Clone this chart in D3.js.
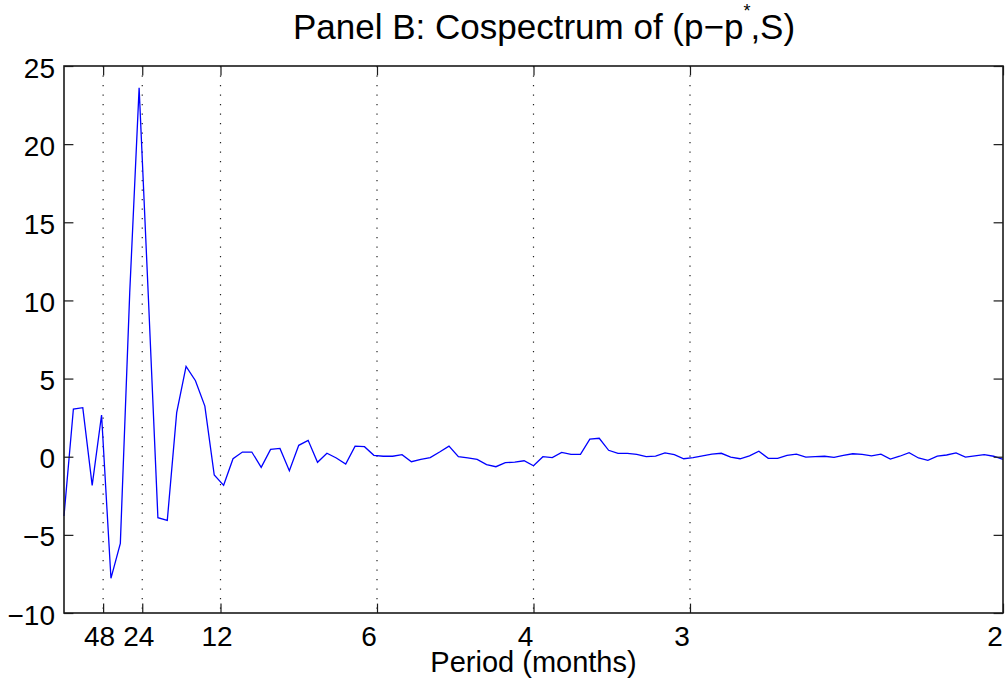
<!DOCTYPE html>
<html>
<head>
<meta charset="utf-8">
<script src="https://cdn.jsdelivr.net/npm/d3@7"></script>
<style>
  html, body { margin: 0; padding: 0; background: #fff; }
  svg { display: block; }
  text { font-family: "Liberation Sans", Arial, Helvetica, sans-serif; fill: #000; }
</style>
</head>
<body>
<svg id="chart" width="1006" height="686"></svg>
<script>
// ---- data ----
// frequency grid (cycles per month), k/200 for k = 0..100
const frequencies = d3.range(101).map(k => k / 200);
const cospectrum = [
  -3.79, 3.05, 3.14, -1.83, 2.67, -7.78, -5.54, 10.5, 23.6, 10.0,
  -3.9, -4.07, 2.82, 5.78, 4.86, 3.24, -1.17, -1.83, -0.13, 0.3,
  0.3, -0.68, 0.47, 0.53, -0.9, 0.73, 1.05, -0.36, 0.22, -0.08,
  -0.47, 0.68, 0.64, 0.09, 0.03, 0.03, 0.13, -0.32, -0.17, -0.06,
  0.3, 0.68, 0.0, -0.08, -0.17, -0.51, -0.64, -0.38, -0.34, -0.26,
  -0.58, 0.0, -0.06, 0.28, 0.15, 0.15, 1.13, 1.18, 0.41, 0.22,
  0.22, 0.15, 0.0, 0.04, 0.24, 0.13, -0.13, -0.06, 0.06, 0.17,
  0.22, -0.02, -0.13, 0.06, 0.35, -0.1, -0.1, 0.09, 0.17, -0.02,
  0.0, 0.03, -0.04, 0.09, 0.19, 0.15, 0.06, 0.17, -0.15, 0.03,
  0.26, -0.08, -0.23, 0.04, 0.11, 0.24, -0.02, 0.06, 0.13, 0.03,
  -0.17
];
const periodTicks = [48, 24, 12, 6, 4, 3, 2];
const periodTickLabels = ["48", "24", "12", "6", "4", "3", "2"];
const yTicks = [-10, -5, 0, 5, 10, 15, 20, 25];
const titleMain = "Panel B: Cospectrum of (p\u2212p";
const titleSup = "*";
const titleEnd = ",S)";
const xLabel = "Period (months)";

// ---- layout ----
const L = 64, R = 1003, T = 66, B = 613;
const svg = d3.select("#chart");
const x = d3.scaleLinear().domain([0, 0.5]).range([L, R]);
const y = d3.scaleLinear().domain([-10, 25]).range([B, T]);
const tickLen = 9.4;
const axisColor = "#1a1a1a";

// dotted vertical grid lines at period ticks
svg.append("g").selectAll("line")
  .data(periodTicks.filter(p => p !== 2))
  .join("line")
  .attr("x1", d => x(1 / d)).attr("x2", d => x(1 / d))
  .attr("y1", T).attr("y2", B)
  .attr("stroke", "#222").attr("stroke-width", 1.2)
  .attr("stroke-dasharray", "1.3,8.2");

// data line
const line = d3.line()
  .x((d, i) => x(frequencies[i]))
  .y(d => y(d));
svg.append("path")
  .datum(cospectrum)
  .attr("d", line)
  .attr("fill", "none")
  .attr("stroke", "#0000ff")
  .attr("stroke-width", 1.3)
  .attr("stroke-linejoin", "miter");

// axes (ticks inside, box on)
const xAxisB = d3.axisBottom(x)
  .tickValues(periodTicks.map(p => 1 / p))
  .tickSize(-tickLen)
  .tickFormat((d, i) => periodTickLabels[i]);
const gxb = svg.append("g").attr("transform", `translate(0,${B})`).call(xAxisB);
gxb.select(".domain").remove();
gxb.selectAll(".tick line").attr("stroke", axisColor).attr("stroke-width", 1.2);
gxb.selectAll(".tick text")
  .attr("y", 33).attr("dy", 0)
  .attr("dx", (d, i) => periodTickLabels[i].length === 1 ? -8.5 : -4)
  .style("font-size", "28px");

const xAxisT = d3.axisTop(x)
  .tickValues(periodTicks.map(p => 1 / p))
  .tickSize(-tickLen).tickFormat("");
const gxt = svg.append("g").attr("transform", `translate(0,${T})`).call(xAxisT);
gxt.select(".domain").remove();
gxt.selectAll(".tick line").attr("stroke", axisColor).attr("stroke-width", 1.2);

const yAxisL = d3.axisLeft(y)
  .tickValues(yTicks)
  .tickSize(-tickLen)
  .tickFormat(d => d < 0 ? "\u2212" + Math.abs(d) : String(d));
const gyl = svg.append("g").attr("transform", `translate(${L},0)`).call(yAxisL);
gyl.select(".domain").remove();
gyl.selectAll(".tick line").attr("stroke", axisColor).attr("stroke-width", 1.2);
gyl.selectAll(".tick text")
  .attr("x", -9).attr("dy", 11).style("font-size", "28px");

const yAxisR = d3.axisRight(y)
  .tickValues(yTicks).tickSize(-tickLen).tickFormat("");
const gyr = svg.append("g").attr("transform", `translate(${R},0)`).call(yAxisR);
gyr.select(".domain").remove();
gyr.selectAll(".tick line").attr("stroke", axisColor).attr("stroke-width", 1.2);

// box
svg.append("rect")
  .attr("x", L).attr("y", T).attr("width", R - L).attr("height", B - T)
  .attr("fill", "none").attr("stroke", axisColor).attr("stroke-width", 1.6);

// x label
svg.append("text")
  .attr("x", (L + R) / 2).attr("y", 672)
  .attr("text-anchor", "middle")
  .style("font-size", "29px")
  .text(xLabel);

// title
const title = svg.append("text")
  .attr("x", 293).attr("y", 39)
  .style("font-size", "35px");
title.append("tspan").text(titleMain);
title.append("tspan").attr("dy", -22).style("font-size", "18px").text(titleSup);
title.append("tspan").attr("dy", 22).style("font-size", "35px").text(titleEnd);
</script>
</body>
</html>
